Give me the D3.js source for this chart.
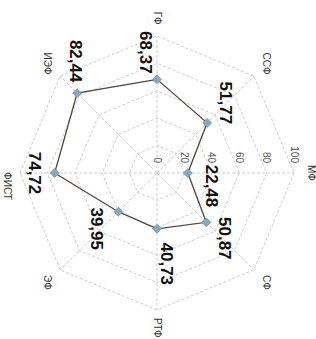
<!DOCTYPE html>
<html>
<head>
<meta charset="utf-8">
<script src="https://cdn.jsdelivr.net/npm/d3@7/dist/d3.min.js"></script>
<style>
body { margin: 0; background: #fff; }
svg { display: block; font-family: "Liberation Sans", Arial, sans-serif; }
.grid { fill: none; stroke: #cdcdcd; stroke-width: 1; stroke-dasharray: 3,2; }
.tick { font-size: 10px; fill: #555; }
.cat { font-size: 10px; fill: #333; }
.val { font-size: 17px; font-weight: bold; fill: #111; }
</style>
</head>
<body>
<script>
// axes listed clockwise, starting from the top of the un-rotated chart
var categories = ["МФ", "СФ", "РТФ", "ЭФ", "ФИСТ", "ИЭФ", "ГФ", "ССФ"];
var values = [22.48, 50.87, 40.73, 39.95, 74.72, 82.44, 68.37, 51.77];
var ticks = [0, 20, 40, 60, 80, 100];
var valueLabels = ["22,48", "50,87", "40,73", "39,95", "74,72", "82,44", "68,37", "51,77"];

// where each value label sits relative to its point (un-rotated frame)
var labelOffsets = [[13, -24], [16, -19], [35, -10], [17, 21], [0, 20], [-32, 1], [-27, 11], [-20, -19]];
// small nudges for the category names
var catNudge = [[0, 0], [0, 0], [0, 0], [0, 0], [13, -5], [0, 0], [0, 0], [0, 0]];

var w = 316, h = 339;
var cx = 157, cy = 173, R = 137;

var svg = d3.select("body").append("svg").attr("width", w).attr("height", h);
// the whole chart is turned a quarter turn clockwise
var g = svg.append("g").attr("transform", "translate(" + cx + "," + cy + ") rotate(90)");

var r = d3.scaleLinear().domain([0, 100]).range([0, R]);
var angle = d3.scalePoint().domain(d3.range(categories.length + 1)).range([0, 2 * Math.PI]);

function pt(i, v) {
	var a = angle(i);
	return [r(v) * Math.sin(a), -r(v) * Math.cos(a)];
}

// octagon rings
ticks.slice(1).forEach(function(t) {
	g.append("path").attr("class", "grid")
		.attr("d", d3.line()(categories.map(function(c, i) { return pt(i, t); })) + "Z");
});

// spokes
g.selectAll(".spoke").data(categories).enter().append("line")
	.attr("class", "grid")
	.attr("x1", 0).attr("y1", 0)
	.attr("x2", function(d, i) { return pt(i, 100)[0]; })
	.attr("y2", function(d, i) { return pt(i, 100)[1]; });

// tick labels along the first axis
g.selectAll(".tick").data(ticks).enter().append("text")
	.attr("class", "tick")
	.attr("x", -10)
	.attr("y", function(d) { return -r(d); })
	.attr("dy", "0.35em")
	.attr("text-anchor", "end")
	.text(function(d) { return d; });

// category names
g.selectAll(".cat").data(categories).enter().append("text")
	.attr("class", "cat")
	.attr("x", function(d, i) { return pt(i, 113)[0] + catNudge[i][0]; })
	.attr("y", function(d, i) { return pt(i, 113)[1] + catNudge[i][1]; })
	.attr("dy", "0.35em")
	.attr("text-anchor", "middle")
	.text(function(d) { return d; });

// series
var pts = values.map(function(v, i) { return pt(i, v); });
g.append("path")
	.attr("d", d3.line()(pts) + "Z")
	.attr("fill", "none")
	.attr("stroke", "#54443f")
	.attr("stroke-width", 1.3);

var diamond = d3.symbol().type(d3.symbolDiamond2).size(50);
g.selectAll(".mk").data(pts).enter().append("path")
	.attr("transform", function(d) { return "translate(" + d[0] + "," + d[1] + ")"; })
	.attr("d", diamond)
	.attr("fill", "#85a9c2")
	.attr("stroke", "#6f93ad")
	.attr("stroke-width", 0.8);

g.selectAll(".val").data(valueLabels).enter().append("text")
	.attr("class", "val")
	.attr("x", function(d, i) { return pts[i][0] + labelOffsets[i][0]; })
	.attr("y", function(d, i) { return pts[i][1] + labelOffsets[i][1]; })
	.attr("dy", "0.35em")
	.attr("text-anchor", "middle")
	.text(function(d) { return d; });
</script>
</body>
</html>
